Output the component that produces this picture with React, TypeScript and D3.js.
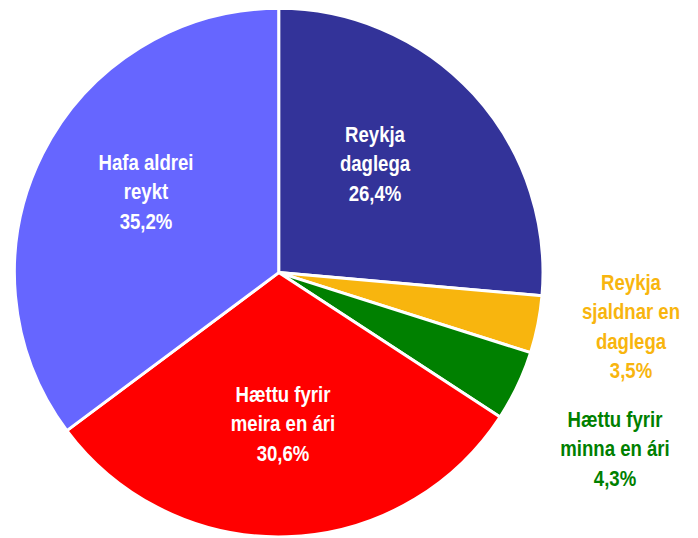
import React from "react";
import * as d3 from "d3";

const categories = [
  ["Reykja", "daglega"],
  ["Reykja", "sjaldnar en", "daglega"],
  ["Hættu fyrir", "minna en ári"],
  ["Hættu fyrir", "meira en ári"],
  ["Hafa aldrei", "reykt"],
];
const values = [26.4, 3.5, 4.3, 30.6, 35.2];
const valueLabels = ["26,4%", "3,5%", "4,3%", "30,6%", "35,2%"];
const colors = ["#333399", "#F8B50E", "#008000", "#FF0000", "#6666FF"];
const labelColors = ["#FFFFFF", "#F8B50E", "#008000", "#FFFFFF", "#FFFFFF"];

// layout: label anchor (x, first baseline) and line height
const labelAnchors = [
  [375, 142],
  [631, 290],
  [615, 427],
  [283, 402],
  [146, 170],
];
const lineHeight = 29.3;
const narrow = 0.845;

const W = 698;
const H = 538;
const cx = 278.7;
const cy = 272.6;
const R = 264.3;

export default function App() {
  const pie = d3.pie<number>().sort(null).value((d) => d)(values);
  const arc = d3.arc<d3.PieArcDatum<number>>().innerRadius(0).outerRadius(R);
  return (
    <svg
      width={W}
      height={H}
      style={{ position: "absolute", left: 0, top: 0, display: "block" }}
    >
      <rect width={W} height={H} fill="#FFFFFF" />
      <g transform={`translate(${cx},${cy})`}>
        {pie.map((p, i) => (
          <path
            key={i}
            d={arc(p) || ""}
            fill={colors[i]}
            stroke="#FFFFFF"
            strokeWidth={3}
            strokeLinejoin="round"
          />
        ))}
      </g>
      {categories.map((lines, i) => {
        const all = [...lines, valueLabels[i]];
        const [x, y0] = labelAnchors[i];
        return (
          <g key={i} transform={`translate(${x},0) scale(${narrow},1)`}>
            <text
              textAnchor="middle"
              fill={labelColors[i]}
              fontFamily="'Liberation Sans Narrow', 'Arial Narrow', 'Liberation Sans', Arial, sans-serif"
              fontWeight="bold"
              fontSize={22}
            >
              {all.map((t, j) => (
                <tspan key={j} x={0} y={y0 + j * lineHeight}>
                  {t}
                </tspan>
              ))}
            </text>
          </g>
        );
      })}
    </svg>
  );
}
